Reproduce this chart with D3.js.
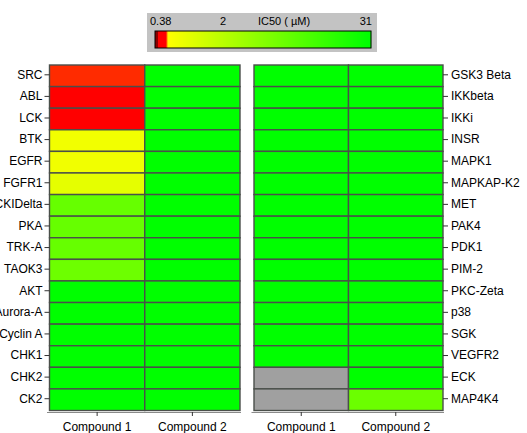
<!DOCTYPE html>
<html><head><meta charset="utf-8">
<script src="https://cdn.jsdelivr.net/npm/d3@7"></script>
<style>
html,body{margin:0;padding:0;background:#fff;}
svg{display:block;}
text{font-family:"Liberation Sans",Arial,sans-serif;}
</style></head>
<body>
<svg id="chart" width="527" height="433"></svg>
<script>
// ---- data ----
const compounds = ["Compound 1", "Compound 2"];
const leftKinases = ["SRC","ABL","LCK","BTK","EGFR","FGFR1","CKIDelta","PKA","TRK-A","TAOK3","AKT","Aurora-A","Cyclin A","CHK1","CHK2","CK2"];
const rightKinases = ["GSK3 Beta","IKKbeta","IKKi","INSR","MAPK1","MAPKAP-K2","MET","PAK4","PDK1","PIM-2","PKC-Zeta","p38","SGK","VEGFR2","ECK","MAP4K4"];
// IC50 (µM); null = not tested
const leftCompound1 = [0.65,0.55,0.55,0.93,0.95,1.17,14.7,14.7,14.7,13.6,31,31,31,31,31,31];
const leftCompound2 = [31,31,31,31,31,31,31,31,31,31,31,31,31,31,31,31];
const rightCompound1 = [31,31,31,31,31,31,31,31,31,31,31,31,31,31,null,null];
const rightCompound2 = [31,31,31,31,31,31,31,31,31,31,31,31,31,31,31,14];
const legendTicks = [0.38, 2, 31];
const legendTitle = "IC50 ( µM)";

// ---- scales ----
const svg = d3.select("#chart");
const legendX = d3.scaleLinear().domain(legendTicks).range([155, 223, 371]).clamp(true);
const colorByX = d3.scaleLinear()
  .domain([155, 157.5, 158.5, 166, 168, 368])
  .range(["#8b0000","#8b0000","#ff0000","#ff0000","#ffff00","#00ff00"])
  .interpolate(d3.interpolateRgb).clamp(true);
const color = v => v == null ? "#a0a0a0" : colorByX(legendX(v));

// ---- legend ----
const lg = svg.append("g");
lg.append("rect").attr("x",147).attr("y",13).attr("width",230).attr("height",39)
  .attr("fill","#c3c3c3");
const steps = d3.range(155, 371, 1);
lg.selectAll("rect.grad").data(steps).join("rect").attr("class","grad")
  .attr("x", d => d).attr("y", 31).attr("width", 1.2).attr("height", 17)
  .attr("fill", d => colorByX(d + 0.5));
lg.append("rect").attr("x",155).attr("y",31).attr("width",216).attr("height",17)
  .attr("fill","none").attr("stroke","#000").attr("stroke-width",1);
const monoFont = "'DejaVu Sans Mono','Liberation Mono',monospace";
lg.selectAll("text.tick").data(legendTicks).join("text").attr("class","tick")
  .attr("x", (d,i) => i === 0 ? legendX(d) - 5 : i === legendTicks.length-1 ? legendX(d) + 1 : legendX(d))
  .attr("y", 25)
  .attr("text-anchor", (d,i) => i === 0 ? "start" : i === legendTicks.length-1 ? "end" : "middle")
  .attr("font-size", 11).attr("fill","#000").attr("font-family", monoFont)
  .text(d => d);
lg.append("text").attr("x",284).attr("y",25).attr("text-anchor","middle")
  .attr("font-size",11).attr("fill","#000").attr("font-family", monoFont).text(legendTitle);

// ---- panels ----
function panel(kinases, c1, c2, x0, x1, side) {
  const x = d3.scaleBand().domain(compounds).range([x0, x1]);
  const y = d3.scaleBand().domain(kinases).range([65, 410.5]);
  const cells = [];
  kinases.forEach((k,i) => {
    cells.push({k, c: compounds[0], v: c1[i]});
    cells.push({k, c: compounds[1], v: c2[i]});
  });
  const g = svg.append("g");
  g.selectAll("rect").data(cells).join("rect")
    .attr("x", d => x(d.c)).attr("y", d => y(d.k))
    .attr("width", x.bandwidth()).attr("height", y.bandwidth())
    .attr("fill", d => color(d.v))
    .attr("stroke", "#4a4f4a").attr("stroke-width", 1.4);

  const yAxis = side === "left" ? d3.axisLeft(y).tickSize(5).tickPadding(2)
                                : d3.axisRight(y).tickSize(5).tickPadding(3);
  const ya = svg.append("g")
    .attr("transform", `translate(${side === "left" ? x0 : x1},-1)`)
    .call(yAxis);
  ya.select(".domain").remove();
  ya.selectAll("line").attr("stroke","#333");
  ya.selectAll("text").attr("font-size",12).attr("fill","#000")
    .attr("font-family","Liberation Sans, Arial, sans-serif");

  const xa = svg.append("g").attr("transform","translate(0,412)")
    .call(d3.axisBottom(x).tickSize(4).tickSizeOuter(0).tickPadding(6));
  xa.select(".domain").attr("stroke","#8a8a8a").attr("stroke-width",1.2)
    .attr("d", `M${x0-2.5},0.5H${x1+1}`);
  xa.selectAll("line").attr("stroke","#333");
  xa.selectAll("text").attr("font-size",12).attr("fill","#000")
    .attr("font-family","Liberation Sans, Arial, sans-serif");
}
panel(leftKinases, leftCompound1, leftCompound2, 49.5, 240, "left");
panel(rightKinases, rightCompound1, rightCompound2, 254, 443, "right");
</script>
</body></html>
